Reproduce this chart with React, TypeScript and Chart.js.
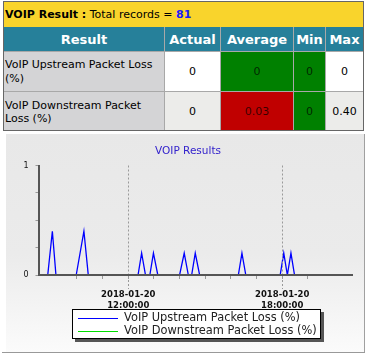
import React, { useEffect, useRef } from "react";
import { Chart, registerables } from "chart.js";

Chart.register(...registerables);

// ---------- table data ----------
const totalRecords = 81;
const tableHeaders = ["Result", "Actual", "Average", "Min", "Max"];
const resultNames = ["VoIP Upstream Packet Loss (%)", "VoIP Downstream Packet Loss (%)"];
const actualVals = ["0", "0"];
const averageVals = ["0", "0.03"];
const minVals = ["0", "0"];
const maxVals = ["0", "0.40"];
const averageColors = ["#008000", "#c00000"];
const minColors = ["#008000", "#008000"];
const plainRowColors = ["#ffffff", "#ececea"];

// ---------- chart data ----------
const chartTitle = "VOIP Results";
const dateLabel = "2018-01-20";
const labelledHours = [12, 18];
const seriesLabels = ["VoIP Upstream Packet Loss (%)", "VoIP Downstream Packet Loss (%)"];
const seriesColors = ["#0000ff", "#00dd00"];
// sample times (hours of the day, 2018-01-20)
const sampleHours = [
  8.55, 8.86, 9.04, 9.18, 9.97, 10.27, 10.44, 12.38, 12.52, 12.67, 12.84, 12.98, 13.15,
  14.0, 14.18, 14.34, 14.47, 14.61, 14.78, 16.29, 16.43, 16.58, 17.92, 18.06, 18.2,
  18.34, 18.48, 20.7,
];
const upstreamLoss = [
  0, 0, 0.4, 0, 0, 0.4, 0, 0, 0.2, 0, 0, 0.2, 0,
  0, 0.2, 0, 0, 0.2, 0, 0, 0.2, 0, 0, 0.2, 0,
  0.2, 0, 0,
];
const downstreamLoss = [
  0, 0, 0, 0, 0, 0, 0, 0, 0, 0, 0, 0, 0,
  0, 0, 0, 0, 0, 0, 0, 0, 0, 0, 0, 0,
  0, 0, 0,
];
const xMin = 8.5;
const xMax = 20.72;

const FONT = "DejaVu Sans";

function ChartPanel() {
  const ref = useRef<HTMLCanvasElement | null>(null);
  useEffect(() => {
    const canvas = ref.current!;
    const panelPlugin = {
      id: "panel",
      beforeDraw(chart: any) {
        const { ctx, width, height } = chart;
        ctx.save();
        const g = ctx.createLinearGradient(0, 0, 0, height);
        g.addColorStop(0, "#e8e8e8");
        g.addColorStop(0.55, "#ebebeb");
        g.addColorStop(1, "#fbfbfb");
        ctx.fillStyle = g;
        ctx.fillRect(0, 0, width, height);
        ctx.restore();
      },
      afterDraw(chart: any) {
        const { ctx, chartArea } = chart;
        const xs = chart.scales.x;
        ctx.save();
        // extension of the labelled grid lines below the axis
        ctx.strokeStyle = "#999";
        ctx.lineWidth = 1;
        ctx.setLineDash([2, 2]);
        labelledHours.forEach((h) => {
          const px = Math.round(xs.getPixelForValue(h)) + 0.5;
          ctx.beginPath();
          ctx.moveTo(px, chartArea.bottom + 1);
          ctx.lineTo(px, chartArea.bottom + 14);
          ctx.stroke();
        });
        ctx.setLineDash([]);
        // title
        ctx.fillStyle = "#3322cc";
        ctx.font = `10.5px "${FONT}"`;
        ctx.textAlign = "center";
        ctx.textBaseline = "middle";
        ctx.fillText(chartTitle, 182, 17);
        // legend box
        const lx = 66, ly = 175, lw = 249, lh = 30;
        ctx.fillStyle = "#555";
        ctx.fillRect(lx + 3, ly + 3, lw, lh);
        ctx.fillStyle = "#ffffff";
        ctx.fillRect(lx, ly, lw, lh);
        ctx.strokeStyle = "#000";
        ctx.lineWidth = 1;
        ctx.strokeRect(lx + 0.5, ly + 0.5, lw - 1, lh - 1);
        chart.data.datasets.forEach((ds: any, i: number) => {
          const y = ly + 8.5 + i * 13.5;
          ctx.strokeStyle = ds.borderColor;
          ctx.lineWidth = 1;
          ctx.beginPath();
          ctx.moveTo(lx + 6, Math.round(y) + 0.5);
          ctx.lineTo(lx + 46, Math.round(y) + 0.5);
          ctx.stroke();
          ctx.fillStyle = "#222";
          ctx.font = `11.4px "${FONT}"`;
          ctx.textAlign = "left";
          ctx.textBaseline = "middle";
          ctx.fillText(ds.label, lx + 52, y + 0.5);
        });
        ctx.restore();
      },
    };

    const chart = new Chart(canvas, {
      type: "line",
      data: {
        datasets: [
          {
            label: seriesLabels[0],
            data: sampleHours.map((h, i) => ({ x: h, y: upstreamLoss[i] })),
            borderColor: seriesColors[0],
            borderWidth: 1.3,
            pointRadius: 0,
            tension: 0,
            fill: false,
          },
          {
            label: seriesLabels[1],
            data: sampleHours.map((h, i) => ({ x: h, y: downstreamLoss[i] })),
            borderColor: seriesColors[1],
            borderWidth: 1,
            pointRadius: 0,
            tension: 0,
            fill: false,
          },
        ],
      },
      options: {
        animation: false,
        responsive: false,
        devicePixelRatio: 1,
        layout: { padding: { left: 0, top: 31.5, right: 12, bottom: 0 } },
        plugins: {
          legend: { display: false },
          title: { display: false },
          tooltip: { enabled: false },
        },
        scales: {
          x: {
            type: "linear",
            min: xMin,
            max: xMax,
            afterBuildTicks: (s: any) => {
              s.ticks = s.ticks.filter((t: any) => Math.abs(t.value - Math.round(t.value)) < 1e-6);
            },
            afterFit: (s: any) => {
              s.height = 77;
            },
            ticks: {
              stepSize: 1,
              autoSkip: false,
              maxRotation: 0,
              padding: 10,
              color: "#111",
              font: { family: FONT, size: 8.5, weight: "bold", lineHeight: 1.35 },
              callback: (v: any) => (labelledHours.includes(v) ? [dateLabel, `${v}:00:00`] : ""),
            },
            grid: {
              color: (c: any) =>
                c.tick && labelledHours.includes(c.tick.value) ? "#999" : "rgba(0,0,0,0)",
              lineWidth: 1,
              tickLength: 4,
              tickColor: "#999",
              drawOnChartArea: true,
              z: 1,
            },
            border: { display: true, color: "#555", width: 2, dash: [2, 2], z: 2 },
          },
          y: {
            min: 0,
            max: 1,
            afterFit: (s: any) => {
              s.width = 32.5;
            },
            ticks: {
              stepSize: 0.25,
              padding: 7,
              color: "#111",
              font: { family: FONT, size: 8 },
              callback: (v: any) => (v === 0 || v === 1 ? String(v) : ""),
            },
            grid: { drawOnChartArea: false, tickLength: 3, tickColor: "#999" },
            border: { display: true, color: "#555", width: 2, z: 2 },
          },
        },
      } as any,
      plugins: [panelPlugin],
    });
    return () => chart.destroy();
  }, []);

  return (
    <div
      style={{
        position: "absolute",
        left: 6,
        top: 134,
        width: 358,
        height: 218,
        borderRight: "1px solid #a0a0a0",
      }}
    >
      <canvas ref={ref} width={358} height={218} style={{ display: "block", width: 358, height: 218 }} />
    </div>
  );
}

export default function App() {
  const colWidths = [160, 55, 72, 31, 37];
  const cellBase: React.CSSProperties = {
    display: "flex",
    alignItems: "center",
    fontSize: 11,
    color: "#000",
  };
  const numCell = (bg: string, text: string, dark: boolean): React.ReactNode => (
    <div
      style={{
        ...cellBase,
        justifyContent: "center",
        background: bg,
        color: dark ? "rgba(0,0,0,0.72)" : "#000",
      }}
    >
      {text}
    </div>
  );
  return (
    <div
      style={{
        position: "absolute",
        left: 0,
        top: 0,
        width: 369,
        height: 357,
        background: "#fff",
        fontFamily: FONT,
        overflow: "hidden",
      }}
    >
      <div
        style={{
          position: "absolute",
          left: 3,
          top: 1,
          width: 359,
          height: 128,
          border: "1px solid #666",
          background: "#a8a8a8",
        }}
      >
        <div
          style={{
            height: 25,
            background: "#f9d42c",
            fontSize: 11,
            lineHeight: "25px",
            paddingLeft: 1,
            color: "#000",
            whiteSpace: "nowrap",
          }}
        >
          <b>VOIP Result :</b> Total records = <b style={{ color: "#1a1aff" }}>{totalRecords}</b>
        </div>
        <div
          style={{
            display: "grid",
            gridTemplateColumns: colWidths.map((w) => w + "px").join(" "),
            gridTemplateRows: "24px 39px 38px",
            columnGap: 1,
            rowGap: 1,
          }}
        >
          {tableHeaders.map((h) => (
            <div
              key={h}
              style={{
                ...cellBase,
                justifyContent: "center",
                background: "#26809a",
                color: "#fff",
                fontWeight: "bold",
                fontSize: 13,
              }}
            >
              {h}
            </div>
          ))}
          {resultNames.map((name, i) => (
            <React.Fragment key={name}>
              <div
                style={{
                  ...cellBase,
                  background: "#d4d4d6",
                  lineHeight: "13.5px",
                  paddingLeft: 1,
                  paddingTop: i === 1 ? 2 : 0,
                }}
              >
                {name}
              </div>
              {numCell(plainRowColors[i], actualVals[i], false)}
              {numCell(averageColors[i], averageVals[i], true)}
              {numCell(minColors[i], minVals[i], true)}
              {numCell(plainRowColors[i], maxVals[i], false)}
            </React.Fragment>
          ))}
        </div>
      </div>
      <ChartPanel />
      <div
        style={{
          position: "absolute",
          left: 2,
          top: 352,
          width: 363,
          height: 1,
          background: "#999",
        }}
      />
    </div>
  );
}
